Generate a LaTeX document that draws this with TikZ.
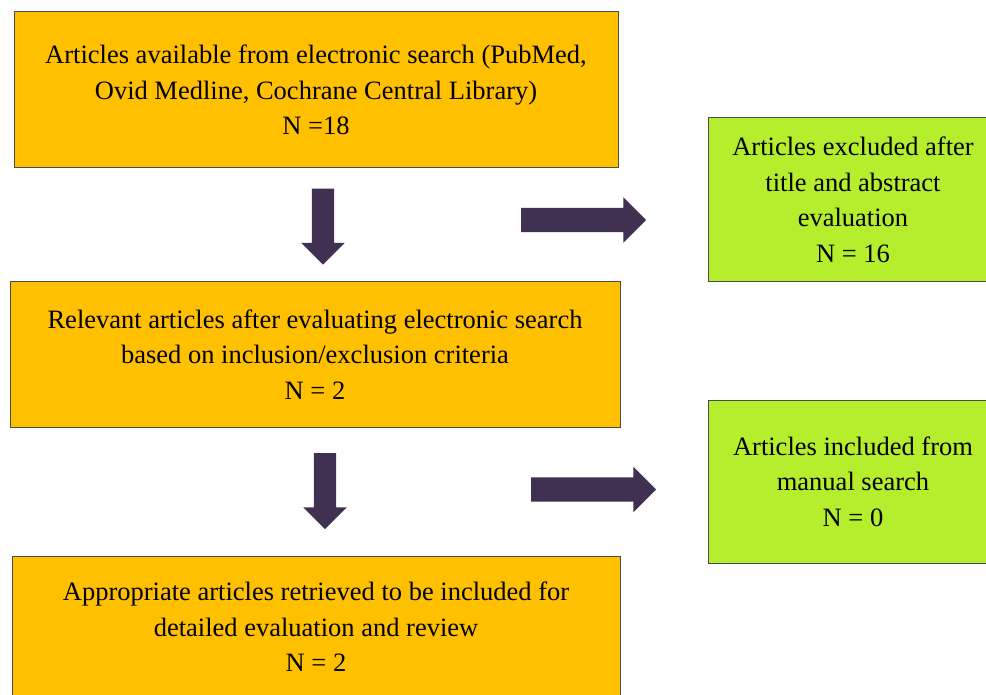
\documentclass[tikz,border=0pt]{standalone}
\usepackage{fontspec}
\setmainfont{Liberation Serif}
\usetikzlibrary{shapes.arrows}

\definecolor{boxgold}{HTML}{FFC000}
\definecolor{boxlime}{HTML}{B4EE2C}
\definecolor{arrowpurple}{HTML}{403152}

\begin{document}
\begin{tikzpicture}[x=1pt, y=-1pt,
  goldbox/.style={draw=black!70, line width=1pt, fill=boxgold, align=center, inner sep=0pt,
    font=\fontsize{26.5}{35.5}\selectfont},
  limebox/.style={goldbox, fill=boxlime, minimum width=290pt},
  blockarrow/.style={single arrow, fill=arrowpurple, draw=none, single arrow head extend=10.5pt},
  downarrow/.style={blockarrow, rotate=-90, inner sep=11pt, minimum height=76pt},
  rightarrow/.style={blockarrow, inner sep=12pt, minimum height=125pt}]

\clip (0,0) rectangle (986,695);

% Main column
\node[goldbox, minimum width=604pt, minimum height=156pt] (search) at (316,90)
  {Articles available from electronic search (PubMed,\\ Ovid Medline, Cochrane Central Library)\\ N =18};
\node[goldbox, minimum width=610pt, minimum height=145pt] (relevant) at (315,354.5)
  {Relevant articles after evaluating electronic search\\ based on inclusion/exclusion criteria\\ N = 2};
\node[goldbox, minimum width=608pt, minimum height=142pt] (retrieved) at (316,627)
  {Appropriate articles retrieved to be included for\\ detailed evaluation and review\\ N = 2};

% Side boxes
\node[limebox, minimum height=164pt] (excluded) at (853,200)
  {Articles excluded after\\ title and abstract\\ evaluation\\ N = 16};
\node[limebox, minimum height=163pt] (manual) at (853,481.5)
  {Articles included from\\ manual search\\ N = 0};

% Arrows
\node[downarrow] (down1) at (323,221) {};
\node[downarrow] (down2) at (325,485.5) {};
\node[rightarrow] (right1) at (577.5,220) {};
\node[rightarrow] (right2) at (587.5,489.5) {};

\end{tikzpicture}
\end{document}
